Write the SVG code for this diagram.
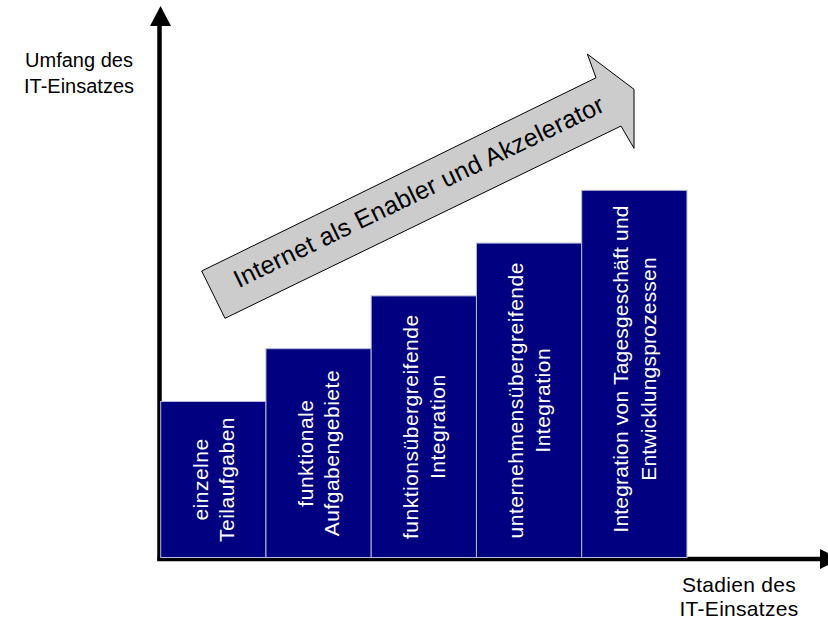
<svg xmlns="http://www.w3.org/2000/svg" width="828" height="619" viewBox="0 0 828 619">
<style>
.lbl{font-family:"Liberation Sans",Arial,sans-serif;font-size:20px;fill:#000;text-anchor:middle}
.bar{fill:#000080;stroke:#b8b8d8;stroke-width:1}
.bt{font-family:"Liberation Sans",Arial,sans-serif;font-size:21px;fill:#fff;text-anchor:middle;letter-spacing:0.5px}
.ax{stroke:#000;stroke-width:4.5;fill:none}
.ah{fill:#000}
</style>
<rect width="828" height="619" fill="#fff"/>
<g id="connectors">
<line class="ax" x1="159.5" y1="22" x2="159.5" y2="561"/>
<polygon class="ah" points="160.5,6 150,26 171,26"/>
<line class="ax" x1="157.5" y1="559" x2="822" y2="559"/>
<polygon class="ah" points="840,559 820,549 820,569"/>
</g>
<g id="label-y">
<text class="lbl" x="79" y="67.3">Umfang des</text>
<text class="lbl" x="79" y="93.3">IT-Einsatzes</text>
</g>
<g id="label-x">
<text class="lbl" x="739" y="591.5" style="font-size:21px;letter-spacing:0.3px">Stadien des</text>
<text class="lbl" x="739" y="615.5" style="font-size:21px;letter-spacing:0.3px">IT-Einsatzes</text>
</g>
<g id="bar1">
<rect class="bar" x="160.7" y="401.5" width="105.25" height="156"/>
<text class="bt" transform="translate(207.5,479.5) rotate(-90)"><tspan x="0" y="0">einzelne</tspan><tspan x="0" y="26">Teilaufgaben</tspan></text>
</g>
<g id="bar2">
<rect class="bar" x="265.95" y="348.7" width="105.25" height="208.8"/>
<text class="bt" transform="translate(312.6,453.1) rotate(-90)"><tspan x="0" y="0">funktionale</tspan><tspan x="0" y="26">Aufgabengebiete</tspan></text>
</g>
<g id="bar3">
<rect class="bar" x="371.2" y="295.9" width="105.25" height="261.6"/>
<text class="bt" transform="translate(418,426.7) rotate(-90)"><tspan x="0" y="0">funktionsübergreifende</tspan><tspan x="0" y="26.5">Integration</tspan></text>
</g>
<g id="bar4">
<rect class="bar" x="476.45" y="243.1" width="105.25" height="314.4"/>
<text class="bt" transform="translate(523,400.3) rotate(-90)"><tspan x="0" y="0">unternehmensübergreifende</tspan><tspan x="0" y="26.5">Integration</tspan></text>
</g>
<g id="bar5">
<rect class="bar" x="581.7" y="190.3" width="105.25" height="367.2"/>
<text class="bt" transform="translate(627.5,369) rotate(-90)" style="letter-spacing:0.2px"><tspan x="0" y="0">Integration von Tagesgeschäft und</tspan><tspan x="0" y="28">Entwicklungsprozessen</tspan></text>
</g>
<g id="internet-arrow">
<polygon points="201.7,271 596,77.8 587.3,54 634,89.3 634,148.3 621,126 225,318.3" fill="#cccccc" stroke="#000" stroke-width="1"/>
<text transform="translate(422.5,199.3) rotate(-25.8)" style="font-family:'Liberation Sans',Arial,sans-serif;font-size:25px;letter-spacing:0.3px;text-anchor:middle;fill:#000">Internet als Enabler und Akzelerator</text>
</g>
</svg>
